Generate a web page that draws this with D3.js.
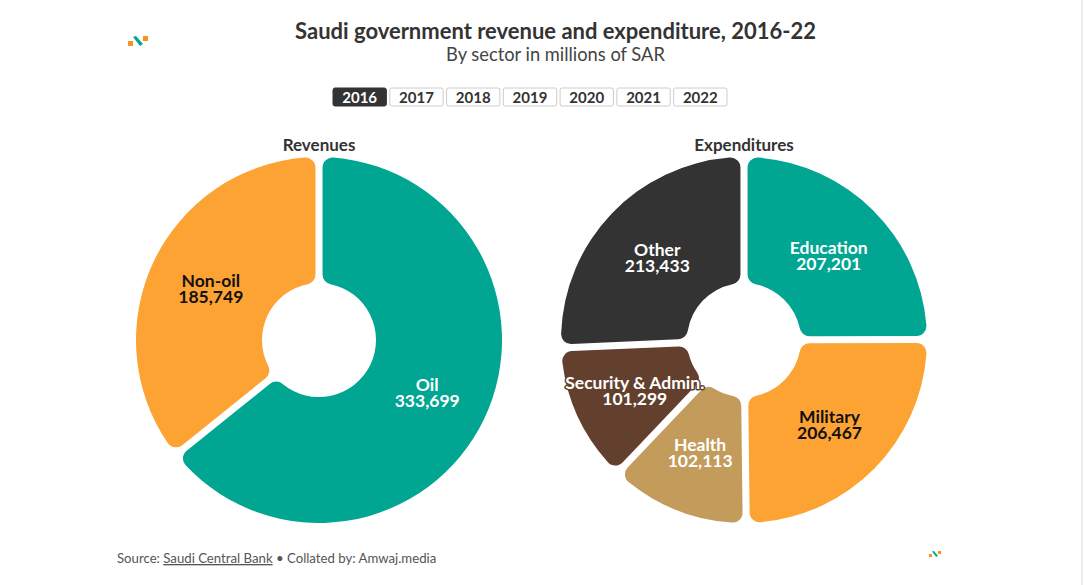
<!DOCTYPE html>
<html>
<head>
<meta charset="utf-8">
<script src="https://cdn.jsdelivr.net/npm/d3@7"></script>
<style>
  html, body { margin: 0; padding: 0; background: #fff; }
  svg { display: block; }
  text { font-family: "Source Sans Pro", "Lato", "Noto Sans", sans-serif; }
</style>
</head>
<body>
<svg id="chart" width="1087" height="585"></svg>
<script>
const years = ["2016", "2017", "2018", "2019", "2020", "2021", "2022"];
const selectedYear = "2016";

const revenueCategories = ["Oil", "Non-oil"];
const revenueValues = [333699, 185749];
const revenueColors = ["#00a692", "#fca334"];
const revenueTextColors = ["#ffffff", "#111111"];

const expenditureCategories = ["Education", "Military", "Health", "Security & Admin.", "Other"];
const expenditureValues = [207201, 206467, 102113, 101299, 213433];
const expenditureColors = ["#00a692", "#fca334", "#c39b5b", "#633f2e", "#333333"];
const expenditureTextColors = ["#ffffff", "#111111", "#ffffff", "#ffffff", "#ffffff"];

const svg = d3.select("#chart");
const W = 1087, H = 585;

// right border
svg.append("rect").attr("x", 1081).attr("y", 0).attr("width", 2).attr("height", H).attr("fill", "#ececec");

// logo
function logo(g, s) {
  g.append("rect").attr("x", 0).attr("y", 5 * s).attr("width", 5 * s).attr("height", 5 * s).attr("fill", "#f7931e");
  g.append("path").attr("d", `M${5*s},${1*s} L${8*s},${0} L${15*s},${8*s} L${12*s},${10*s} Z`).attr("fill", "#00a692");
  g.append("rect").attr("x", 15 * s).attr("y", 0).attr("width", 5 * s).attr("height", 5 * s).attr("fill", "#f7931e");
}
logo(svg.append("g").attr("transform", "translate(128,36)"), 1);
logo(svg.append("g").attr("transform", "translate(929,551)"), 0.6);

// title (fit to reference width)
function fitText(sel, target) {
  const w = sel.node().getComputedTextLength();
  const fs = parseFloat(sel.attr("font-size"));
  if (w > 0) sel.attr("font-size", fs * target / w);
}
const t1 = svg.append("text").attr("x", 555.5).attr("y", 39).attr("text-anchor", "middle")
  .attr("font-size", 20).attr("font-weight", 700).attr("fill", "#333")
  .text("Saudi government revenue and expenditure, 2016-22");
fitText(t1, 521);
const t2 = svg.append("text").attr("x", 555.5).attr("y", 61).attr("text-anchor", "middle")
  .attr("font-size", 17).attr("font-weight", 400).attr("fill", "#444")
  .text("By sector in millions of SAR");
fitText(t2, 219);

// year buttons
const bx = d3.scaleBand().domain(years).range([333, 727]).paddingInner(0.06);
const btn = svg.append("g").selectAll("g").data(years).join("g")
  .attr("transform", d => `translate(${bx(d)},88)`);
btn.append("rect").attr("width", bx.bandwidth()).attr("height", 18).attr("rx", 2)
  .attr("fill", d => d === selectedYear ? "#333" : "#fff")
  .attr("stroke", d => d === selectedYear ? "#333" : "#ccc");
btn.append("text").attr("x", bx.bandwidth() / 2).attr("y", 14.5).attr("text-anchor", "middle")
  .attr("font-size", 15).attr("font-weight", 700)
  .attr("fill", d => d === selectedYear ? "#fff" : "#333").text(d => d);

// donuts
const outerR = 183, innerR = 57;
const pie = d3.pie().sort(null).value(d => d.value);
const arc = d3.arc().innerRadius(innerR).outerRadius(outerR).padAngle(0.037).cornerRadius(10);
const labelArc = d3.arc().innerRadius(innerR).outerRadius(outerR);

function donut(cx, cy, title, cats, vals, cols, tcols) {
  const data = cats.map((c, i) => ({ name: c, value: vals[i], color: cols[i], tcolor: tcols[i] }));
  svg.append("text").attr("x", cx).attr("y", 151).attr("text-anchor", "middle")
    .attr("font-size", 17).attr("font-weight", 700).attr("fill", "#333").text(title);
  const g = svg.append("g").attr("transform", `translate(${cx},${cy})`);
  const arcs = pie(data);
  g.selectAll("path").data(arcs).join("path").attr("d", arc).attr("fill", d => d.data.color);
  const fmt = d3.format(",");
  const lab = g.selectAll("g.lbl").data(arcs).join("g").attr("class", "lbl")
    .attr("transform", d => { const c = labelArc.centroid(d); return `translate(${c[0]},${c[1] + 1})`; });
  const style = s => s.attr("text-anchor", "middle").attr("font-size", 17.5).attr("font-weight", 700)
    .attr("fill", d => d.data.tcolor)
    .attr("stroke", d => d.data.color).attr("stroke-width", 3).attr("stroke-linejoin", "round")
    .attr("paint-order", "stroke");
  lab.append("text").attr("y", -2).call(style).text(d => d.data.name);
  lab.append("text").attr("y", 14).call(style).text(d => fmt(d.data.value));
}
donut(319, 340, "Revenues", revenueCategories, revenueValues, revenueColors, revenueTextColors);
donut(744, 340, "Expenditures", expenditureCategories, expenditureValues, expenditureColors, expenditureTextColors);

// footer
const ft = svg.append("text").attr("x", 117).attr("y", 563).attr("font-size", 13.2).attr("fill", "#555");
ft.append("tspan").text("Source: ");
ft.append("tspan").attr("text-decoration", "underline").text("Saudi Central Bank");
ft.append("tspan").text(" • Collated by: Amwaj.media");
</script>
</body>
</html>
